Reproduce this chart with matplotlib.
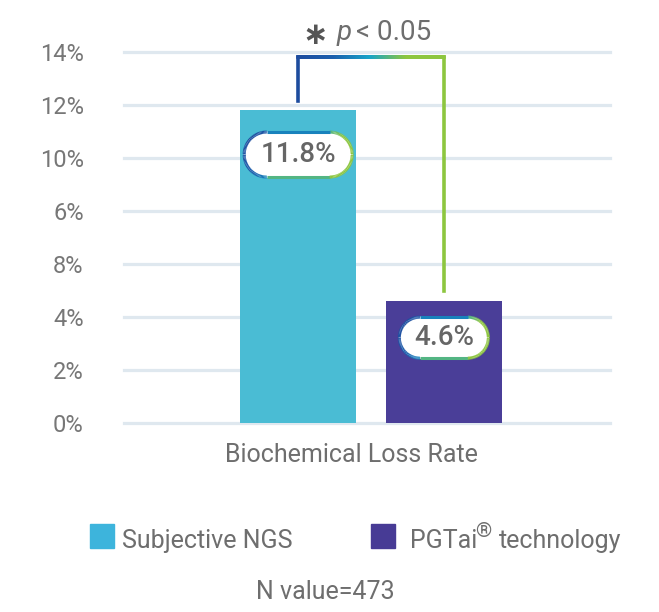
import numpy as np
import matplotlib
matplotlib.use("Agg")
import matplotlib.pyplot as plt
from matplotlib.collections import LineCollection
from matplotlib.colors import LinearSegmentedColormap
from matplotlib.transforms import ScaledTranslation

# data
categories = ['Subjective NGS', 'PGTai® technology']
rates = [11.8, 4.6]
bar_colors = ['#4abcd4', '#4a3e98']
legend_colors = ['#3db4dc', '#473b95']
ytick_vals = [0, 2, 4, 6, 8, 10, 12, 14]
ytick_labels = ['0%', '2%', '4%', '8%', '6%', '10%', '12%', '14%']
group_label = 'Biochemical Loss Rate'
n_label = 'N value=473'

W, H = 659, 612
grey = '#6e6e6e'
plt.rcParams['font.family'] = ['Roboto', 'DejaVu Sans']

fig = plt.figure(figsize=(W / 100, H / 100), dpi=100)

def px(x, y):
    return x / W, 1 - y / H

ax = fig.add_axes([124 / W, 1 - 423 / H, 486 / W, (423 - 52) / H])
ax.set_xlim(-1.196, 2.141)
ax.set_ylim(0, 14)
for s in ax.spines.values():
    s.set_visible(False)
ax.set_xticks([])
ax.set_yticks(ytick_vals)
ax.set_yticklabels(ytick_labels, fontsize=17, color='#777777')
ax.tick_params(axis='y', length=0, pad=29)
for v in ytick_vals:
    ax.axhline(v, color='#dfe8ef', lw=2.3, zorder=0, clip_on=False)

x = np.arange(len(rates))
ax.bar(x, rates, width=0.797, color=bar_colors, zorder=2)

grad = LinearSegmentedColormap.from_list('g', ['#1d4c9e', '#1a5fae', '#17a4c9', '#8dc63f', '#8dc63f'])

# significance bracket
y_top = 13.8
xs = np.concatenate([[x[0], x[0]], np.linspace(x[0], x[1], 200), [x[1], x[1]]])
ys = np.concatenate([[12.15, y_top], np.full(200, y_top), [y_top, 4.97]])
pts = np.column_stack([xs, ys])
segs = np.stack([pts[:-1], pts[1:]], axis=1)
cvals = (segs[:, :, 0].mean(axis=1) - x[0]) / (x[1] - x[0])
lc = LineCollection(segs, cmap=grad, linewidths=2.6, zorder=3, capstyle='projecting')
lc.set_array(cvals)
lc.set_clim(0, 1)
lc.set_clip_on(False)
ax.add_collection(lc)

# value pills
def pill(xc, yc, w, h, text):
    tr = fig.dpi_scale_trans + ScaledTranslation(xc, yc, ax.transData)
    r = h / 2
    a1 = np.linspace(np.pi / 2, 3 * np.pi / 2, 60)
    a2 = np.linspace(-np.pi / 2, np.pi / 2, 60)
    left = np.column_stack([-w / 2 + r + r * np.cos(a1), r * np.sin(a1)])
    right = np.column_stack([w / 2 - r + r * np.cos(a2), r * np.sin(a2)])
    outline = np.vstack([left, right, left[:1]])
    ax.fill(outline[:, 0], outline[:, 1], color='white', transform=tr, zorder=4, clip_on=False)
    sg = np.stack([outline[:-1], outline[1:]], axis=1)
    cx = (sg[:, :, 0].mean(axis=1) + w / 2) / w
    cy = (sg[:, :, 1].mean(axis=1) + h / 2) / h
    pc = LineCollection(sg, cmap=grad, linewidths=2.2, transform=tr, zorder=5)
    pc.set_array(np.clip(cx * 0.85 + (1 - cy) * 0.25 - 0.05, 0, 1))
    pc.set_clim(0, 1)
    pc.set_clip_on(False)
    ax.add_collection(pc)
    ax.text(xc, yc, text, ha='center', va='center', fontsize=20, color='#666666',
            fontweight='medium', zorder=6)

pill(x[0], 10.13, 1.08, 0.45, '%.1f%%' % rates[0])
pill(x[1], 3.22, 0.89, 0.41, '%.1f%%' % rates[1])

# p-value
fig.text(*px(315, 36), '∗', fontsize=22, fontweight='bold', color='#555555',
         ha='center', va='center', family='DejaVu Sans')
fig.text(*px(337, 40), 'p', fontsize=20, style='italic', color=grey, va='baseline')
fig.text(*px(356, 40), '< 0.05', fontsize=20, color=grey, va='baseline')

# category label
fig.text(*px(351, 462), group_label, fontsize=18, color=grey, ha='center', va='baseline')

# legend
for (lx, c) in zip([90, 371], legend_colors):
    fig.patches.append(plt.Rectangle(px(lx, 548), 24 / W, 24 / H, color=c, transform=fig.transFigure))
fig.text(*px(122, 548), categories[0], fontsize=18, color=grey, va='baseline')
fig.text(*px(410, 548), 'PGTai', fontsize=18, color=grey, va='baseline')
fig.text(*px(475, 537), '®', fontsize=15, color=grey, va='baseline')
fig.text(*px(499, 548), 'technology', fontsize=18, color=grey, va='baseline')

fig.text(*px(325, 599), n_label, fontsize=18, color=grey, ha='center', va='baseline')

fig.savefig('out.png', dpi=100)
